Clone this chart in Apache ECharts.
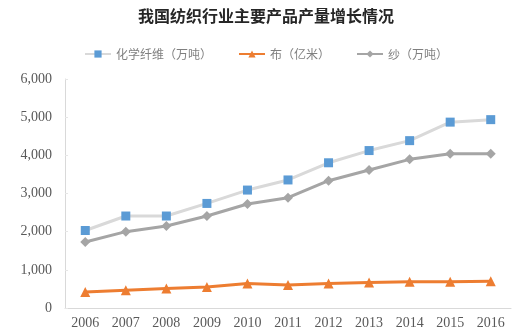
<!DOCTYPE html>
<html><head><meta charset="utf-8">
<script src="https://cdn.jsdelivr.net/npm/echarts@6/dist/echarts.min.js"></script>
<style>html,body{margin:0;padding:0;background:#fff}#c{width:532px;height:332px}</style>
</head><body><div id="c"></div>
<script>
const years = ['2006','2007','2008','2009','2010','2011','2012','2013','2014','2015','2016'];
const fiber = [2030, 2410, 2410, 2740, 3090, 3355, 3805, 4125, 4385, 4870, 4935];
const cloth = [420, 465, 510, 550, 640, 605, 640, 665, 685, 690, 700];
const yarn  = [1730, 2000, 2150, 2410, 2725, 2890, 3335, 3615, 3895, 4040, 4040];
const seriesNames = ['化学纤维（万吨）', '布（亿米）', '纱（万吨）'];

const chart = echarts.init(document.getElementById('c'));
const serif = '"Liberation Serif","DejaVu Serif",serif';
chart.setOption({
  animation: false,
  title: {
    text: '我国纺织行业主要产品产量增长情况',
    left: 'center', top: 3,
    textStyle: { fontFamily: '"Noto Sans CJK SC"', fontSize: 16, fontWeight: 'bold', color: '#262626' }
  },
  legend: {
    top: 43, left: 'center', itemGap: 26, itemWidth: 26, itemHeight: 9,
    textStyle: { fontFamily: '"Noto Sans CJK SC"', fontSize: 12, color: '#7f7f7f' },
    data: seriesNames
  },
  grid: { left: 65, right: 21, top: 79, bottom: 24 },
  xAxis: {
    type: 'category', data: years, boundaryGap: true,
    axisLine: { lineStyle: { color: '#d9d9d9' } },
    axisTick: { inside: true, length: 4, lineStyle: { color: '#d9d9d9' } },
    axisLabel: { fontFamily: serif, fontSize: 14, color: '#595959', margin: 8 }
  },
  yAxis: {
    type: 'value', min: 0, max: 6000, interval: 1000,
    axisLine: { show: true, lineStyle: { color: '#d9d9d9' } },
    axisTick: { show: true, inside: true, length: 3, lineStyle: { color: '#e6e6e6' } },
    splitLine: { show: false },
    axisLabel: {
      fontFamily: serif, fontSize: 14, color: '#595959', margin: 13,
      formatter: v => v.toLocaleString('en-US')
    }
  },
  series: [
    { name: seriesNames[0], type: 'line', data: fiber, symbol: 'rect', symbolSize: 9,
      lineStyle: { color: '#d9d9d9', width: 3 }, itemStyle: { color: '#5b9bd5' } },
    { name: seriesNames[1], type: 'line', data: cloth, symbol: 'triangle', symbolSize: 10,
      lineStyle: { color: '#ed7d31', width: 3 }, itemStyle: { color: '#ed7d31' } },
    { name: seriesNames[2], type: 'line', data: yarn, symbol: 'diamond', symbolSize: 10,
      lineStyle: { color: '#a5a5a5', width: 3 }, itemStyle: { color: '#a5a5a5' } }
  ]
});
</script></body></html>
